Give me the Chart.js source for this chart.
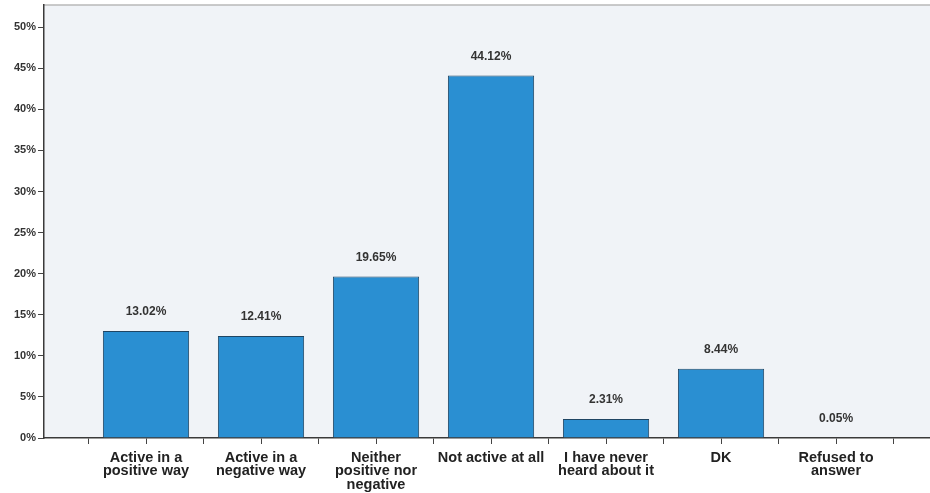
<!DOCTYPE html>
<html>
<head>
<meta charset="utf-8">
<script src="https://cdn.jsdelivr.net/npm/chart.js@4"></script>
<style>
  html, body { margin: 0; padding: 0; background: #fff; }
  #wrap { width: 930px; height: 493px; position: relative; }
</style>
</head>
<body>
<div id="wrap"><canvas id="chart"></canvas></div>
<script>
// categories (multi-line labels) and percentages
var categories = [
    ['Active in a', 'positive way'],
    ['Active in a', 'negative way'],
    ['Neither', 'positive nor', 'negative'],
    ['Not active at all'],
    ['I have never', 'heard about it'],
    ['DK'],
    ['Refused to', 'answer']
];
var percents = [13.02, 12.41, 19.65, 44.12, 2.31, 8.44, 0.05];
var yTicks = [0, 5, 10, 15, 20, 25, 30, 35, 40, 45, 50];

var fontFamily = '"Liberation Sans", Arial, sans-serif';

// light panel behind the plot plus the grey top rule
var panelPlugin = {
    id: 'panel',
    beforeDraw: function (chart) {
        var a = chart.chartArea;
        var ctx = chart.ctx;
        ctx.save();
        ctx.fillStyle = '#f0f3f7';
        ctx.fillRect(a.left, a.top, a.right - a.left, a.bottom - a.top);
        ctx.strokeStyle = '#b9b9b9';
        ctx.lineWidth = 1.5;
        ctx.beginPath();
        ctx.moveTo(a.left, a.top);
        ctx.lineTo(a.right, a.top);
        ctx.stroke();
        ctx.restore();
    }
};

// value labels above each bar
var valueLabels = {
    id: 'valueLabels',
    afterDatasetsDraw: function (chart) {
        var ctx = chart.ctx;
        var meta = chart.getDatasetMeta(0);
        ctx.save();
        ctx.font = 'bold 12px ' + fontFamily;
        ctx.fillStyle = '#333';
        ctx.textAlign = 'center';
        ctx.textBaseline = 'middle';
        meta.data.forEach(function (bar, i) {
            ctx.fillText(percents[i].toFixed(2) + '%', bar.x, bar.y - 19);
        });
        ctx.restore();
    }
};

var points = percents.map(function (v, i) { return { x: i, y: v }; });

new Chart(document.getElementById('chart'), {
    type: 'bar',
    data: {
        datasets: [{
            data: points,
            backgroundColor: '#2a8fd2',
            borderColor: '#1f4563',
            borderWidth: 1,
            // tick spacing is half a category, so 1.5 gives 75% of a category
            barPercentage: 1.5,
            categoryPercentage: 1
        }]
    },
    options: {
        responsive: true,
        maintainAspectRatio: false,
        animation: false,
        layout: { padding: { top: 5, right: 0, left: 0, bottom: 0 } },
        plugins: {
            legend: { display: false },
            tooltip: { enabled: false }
        },
        scales: {
            x: {
                type: 'linear',
                offset: false,
                min: -0.887,
                max: 6.817,
                afterBuildTicks: function (scale) {
                    var t = [];
                    for (var v = -0.5; v <= 6.5; v += 0.5) t.push({ value: v });
                    scale.ticks = t;
                },
                afterFit: function (scale) { scale.height = 55; },
                ticks: {
                    autoSkip: false,
                    maxRotation: 0,
                    padding: 7,
                    color: '#222',
                    font: { family: fontFamily, size: 14.5, weight: 'bold', lineHeight: 0.93 },
                    callback: function (value) {
                        return Number.isInteger(value) ? categories[value] : '';
                    }
                },
                grid: {
                    offset: false,
                    drawOnChartArea: false,
                    drawTicks: true,
                    tickLength: 6,
                    color: '#444'
                },
                border: { color: '#3a3a3a', width: 1.5 }
            },
            y: {
                min: 0,
                max: 52.7,
                afterBuildTicks: function (scale) {
                    scale.ticks = yTicks.map(function (v) { return { value: v }; });
                },
                afterFit: function (scale) {
                    scale.width = 44;
                    scale.paddingTop = 0;
                    scale.paddingBottom = 0;
                },
                ticks: {
                    padding: 2,
                    color: '#333',
                    font: { family: fontFamily, size: 11, weight: 'bold' },
                    callback: function (value) { return value + '%'; }
                },
                grid: {
                    drawOnChartArea: false,
                    drawTicks: true,
                    tickLength: 6,
                    color: '#444'
                },
                border: { color: '#3a3a3a', width: 1.5 }
            }
        }
    },
    plugins: [panelPlugin, valueLabels]
});
</script>
</body>
</html>
